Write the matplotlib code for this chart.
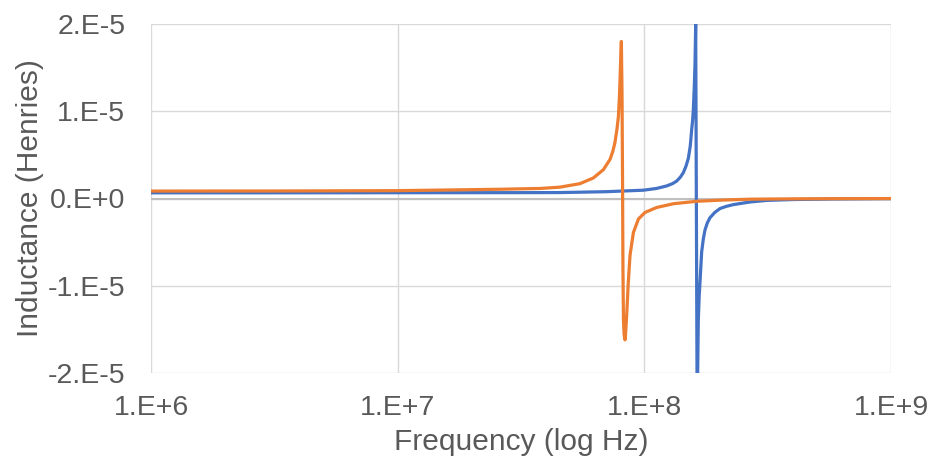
import matplotlib
matplotlib.use("Agg")
import matplotlib.pyplot as plt
from matplotlib.ticker import FixedLocator, FixedFormatter, NullLocator

# ---- data (frequency in Hz, inductance in H) ----
blue_freq = [1e6, 3e6, 1e7, 3e7, 4.55e7, 7e7, 9.9e7, 1.12e8, 1.232e8, 1.3e8,
             1.353e8, 1.4e8, 1.439e8, 1.475e8, 1.508e8, 1.535e8, 1.556e8,
             1.57e8, 1.58e8, 1.595e8, 1.605e8, 1.615e8, 1.64e8, 1.645e8,
             1.655e8, 1.668e8, 1.682e8, 1.708e8, 1.735e8, 1.762e8, 1.80e8,
             1.846e8, 1.93e8, 2.027e8, 2.15e8, 2.296e8, 2.68e8, 3.13e8, 4e8,
             5.82e8, 1e9]
blue_ind = [0.65e-6, 0.65e-6, 0.66e-6, 0.67e-6, 0.68e-6, 0.78e-6, 0.95e-6,
            1.15e-6, 1.44e-6, 1.7e-6, 2.0e-6, 2.45e-6, 2.96e-6, 3.7e-6,
            4.6e-6, 6.0e-6, 7.9e-6, 9.0e-6, 10.2e-6, 13e-6, 15.5e-6, 20e-6,
            -30e-6, -20e-6, -14e-6, -11.3e-6, -9.5e-6, -6.1e-6, -4.6e-6,
            -3.6e-6, -2.8e-6, -2.2e-6, -1.6e-6, -1.15e-6, -0.9e-6, -0.7e-6,
            -0.4e-6, -0.22e-6, -0.12e-6, -0.06e-6, -0.02e-6]

orange_freq = [1e6, 3e6, 1e7, 1.63e7, 2.6e7, 3.78e7, 4.55e7, 5.48e7, 6.21e7,
               6.82e7, 7.26e7, 7.45e7, 7.6e7, 7.75e7, 7.85e7, 7.92e7, 7.97e7,
               8.02e7, 8.07e7, 8.12e7, 8.16e7, 8.19e7, 8.23e7, 8.28e7, 8.35e7,
               8.40e7, 8.48e7, 8.61e7, 8.75e7, 9.03e7, 9.46e7, 1.006e8,
               1.122e8, 1.311e8, 1.631e8, 2.03e8, 2.68e8, 4e8, 6e8, 1e9]
orange_ind = [0.85e-6, 0.86e-6, 0.9e-6, 0.98e-6, 1.06e-6, 1.15e-6, 1.3e-6,
              1.7e-6, 2.35e-6, 3.3e-6, 4.48e-6, 5.4e-6, 6.4e-6, 8.0e-6,
              9.4e-6, 11.5e-6, 13.6e-6, 16e-6, 18.0e-6, 12e-6, 2e-6, -8e-6,
              -14e-6, -15.6e-6, -16.2e-6, -15.4e-6, -13.4e-6, -9.6e-6,
              -6.5e-6, -3.9e-6, -2.36e-6, -1.6e-6, -1.03e-6, -0.6e-6,
              -0.32e-6, -0.19e-6, -0.08e-6, -0.04e-6, -0.02e-6, -0.01e-6]

x_ticks = [1e6, 1e7, 1e8, 1e9]
x_tick_labels = ["1.E+6", "1.E+7", "1.E+8", "1.E+9"]
y_ticks = [-2e-5, -1e-5, 0, 1e-5, 2e-5]
y_tick_labels = ["-2.E-5", "-1.E-5", "0.E+0", "1.E-5", "2.E-5"]

plt.rcParams['font.family'] = ['Liberation Sans', 'DejaVu Sans']

fig = plt.figure(figsize=(9.35, 4.66), dpi=100)
ax = fig.add_axes([151/935, 1 - 373/466, (891 - 151)/935, (373 - 24)/466])

ax.set_xscale("log")
ax.set_xlim(1e6, 1e9)
ax.set_ylim(-2e-5, 2e-5)

ax.xaxis.set_major_locator(FixedLocator(x_ticks))
ax.xaxis.set_major_formatter(FixedFormatter(x_tick_labels))
ax.xaxis.set_minor_locator(NullLocator())
ax.yaxis.set_major_locator(FixedLocator(y_ticks))
ax.yaxis.set_major_formatter(FixedFormatter(y_tick_labels))

for s in ax.spines.values():
    s.set_visible(False)
ax.grid(True, color="#D9D9D9", linewidth=1.0)
ax.set_axisbelow(True)
ax.axhline(0, color="#BFBFBF", linewidth=1.5, zorder=1)

ax.tick_params(axis="both", length=0, labelsize=20.5, colors="#595959")
ax.tick_params(axis="y", pad=18.5)
ax.tick_params(axis="x", pad=16)

ax.plot(blue_freq, blue_ind, color="#4472C4", linewidth=2.3, zorder=3,
        solid_joinstyle="round")
ax.plot(orange_freq, orange_ind, color="#ED7D31", linewidth=2.3, zorder=4,
        solid_joinstyle="round")

ax.set_xlabel("Frequency (log Hz)", fontsize=21.5, color="#595959", labelpad=5)
ax.set_ylabel("Inductance (Henries)", fontsize=21.5, color="#595959", labelpad=3)

fig.savefig("out.png", dpi=100)
